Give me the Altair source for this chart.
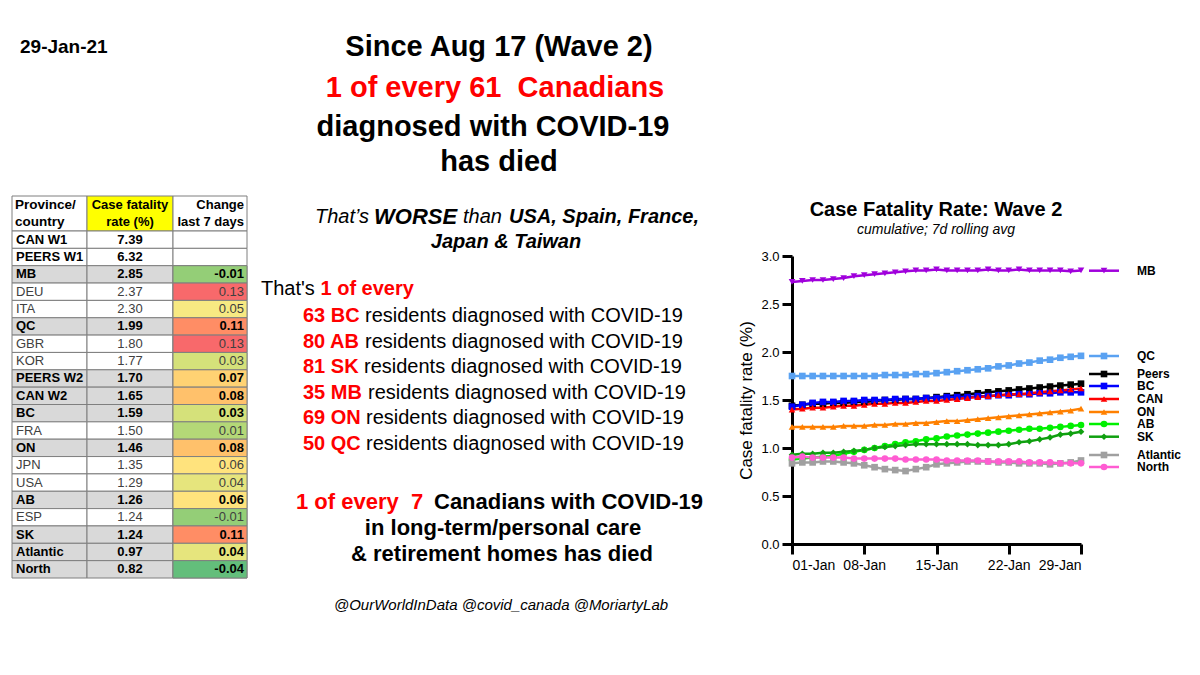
import altair as alt
import pandas as pd

FONT = "Liberation Sans"

# ---------------- line chart data ----------------
dates = [f"2021-01-{d:02d}" for d in range(1, 30)]
series_names = ["MB", "QC", "Peers", "BC", "CAN", "ON", "AB", "SK", "Atlantic", "North"]

mb = [2.73, 2.74, 2.75, 2.75, 2.76, 2.77, 2.79, 2.80, 2.81, 2.82, 2.83, 2.84, 2.85, 2.85, 2.86,
      2.85, 2.85, 2.85, 2.85, 2.86, 2.85, 2.85, 2.86, 2.85, 2.85, 2.85, 2.85, 2.84, 2.85]
qc = [1.75, 1.75, 1.75, 1.75, 1.75, 1.75, 1.75, 1.75, 1.75, 1.76, 1.76, 1.76, 1.77, 1.77, 1.78,
      1.79, 1.80, 1.81, 1.82, 1.83, 1.85, 1.86, 1.88, 1.89, 1.91, 1.92, 1.94, 1.95, 1.96]
peers = [1.44, 1.45, 1.46, 1.46, 1.47, 1.47, 1.48, 1.48, 1.49, 1.50, 1.50, 1.51, 1.51, 1.52, 1.53,
         1.54, 1.55, 1.56, 1.57, 1.58, 1.59, 1.60, 1.61, 1.62, 1.63, 1.64, 1.65, 1.66, 1.67]
bc = [1.43, 1.45, 1.47, 1.48, 1.48, 1.49, 1.49, 1.50, 1.50, 1.50, 1.51, 1.51, 1.51, 1.52, 1.52,
      1.53, 1.53, 1.53, 1.54, 1.54, 1.55, 1.55, 1.56, 1.56, 1.57, 1.57, 1.58, 1.58, 1.58]
can = [1.40, 1.41, 1.42, 1.42, 1.43, 1.44, 1.44, 1.45, 1.46, 1.46, 1.47, 1.47, 1.48, 1.49, 1.49,
       1.50, 1.51, 1.52, 1.53, 1.54, 1.55, 1.56, 1.56, 1.57, 1.58, 1.59, 1.60, 1.61, 1.62]
on = [1.22, 1.22, 1.22, 1.22, 1.22, 1.23, 1.23, 1.23, 1.24, 1.24, 1.25, 1.25, 1.26, 1.26, 1.27,
      1.28, 1.28, 1.29, 1.30, 1.31, 1.32, 1.33, 1.34, 1.35, 1.36, 1.37, 1.38, 1.39, 1.41]
ab = [0.88, 0.89, 0.90, 0.91, 0.92, 0.94, 0.96, 0.98, 1.00, 1.02, 1.04, 1.06, 1.07, 1.09, 1.10,
      1.12, 1.13, 1.14, 1.15, 1.16, 1.17, 1.18, 1.19, 1.20, 1.20, 1.21, 1.22, 1.23, 1.24]
sk = [0.93, 0.94, 0.94, 0.95, 0.95, 0.96, 0.97, 0.98, 1.00, 1.01, 1.02, 1.03, 1.04, 1.04, 1.04,
      1.04, 1.04, 1.04, 1.03, 1.03, 1.03, 1.04, 1.06, 1.07, 1.09, 1.11, 1.14, 1.15, 1.17]
atlantic = [0.84, 0.85, 0.85, 0.86, 0.86, 0.85, 0.84, 0.82, 0.80, 0.78, 0.77, 0.76, 0.78, 0.80, 0.83,
            0.84, 0.85, 0.86, 0.86, 0.86, 0.85, 0.85, 0.84, 0.84, 0.84, 0.83, 0.84, 0.85, 0.87]
north = [0.90, 0.91, 0.90, 0.90, 0.90, 0.90, 0.89, 0.89, 0.89, 0.89, 0.89, 0.88, 0.88, 0.88, 0.88,
         0.87, 0.87, 0.87, 0.87, 0.86, 0.86, 0.86, 0.86, 0.85, 0.85, 0.85, 0.84, 0.84, 0.84]
series_values = [mb, qc, peers, bc, can, on, ab, sk, atlantic, north]

series_colors = ["#A000DC", "#5AA2F2", "#000000", "#0000FF", "#FF0000",
                 "#FF8000", "#00F000", "#10A010", "#A0A0A0", "#FF5CD2"]
series_shapes = ["triangle-down", "square", "square", "square", "triangle-up",
                 "triangle-up", "circle", "diamond", "square", "circle"]

x_tick_days = [1, 8, 15, 22, 29]
y_ticks = [0, 0.5, 1.0, 1.5, 2.0, 2.5, 3.0]

# ---------------- table data ----------------
table_rows = ["CAN W1", "PEERS W1", "MB", "DEU", "ITA", "QC", "GBR", "KOR", "PEERS W2", "CAN W2",
              "BC", "FRA", "ON", "JPN", "USA", "AB", "ESP", "SK", "Atlantic", "North"]
table_cfr = [7.39, 6.32, 2.85, 2.37, 2.30, 1.99, 1.80, 1.77, 1.70, 1.65,
             1.59, 1.50, 1.46, 1.35, 1.29, 1.26, 1.24, 1.24, 0.97, 0.82]
table_change = [None, None, -0.01, 0.13, 0.05, 0.11, 0.13, 0.03, 0.07, 0.08,
                0.03, 0.01, 0.08, 0.06, 0.04, 0.06, -0.01, 0.11, 0.04, -0.04]
table_group = ["w1", "w1", "ca", "intl", "intl", "ca", "intl", "intl", "ca", "ca",
               "ca", "intl", "ca", "intl", "intl", "ca", "intl", "ca", "ca", "ca"]
table_header = [["Province/", "country"], ["Case fatality", "rate (%)"], ["Change", "last 7 days"]]

# ---------------- helpers ----------------
ONE = pd.DataFrame({"k": [0]})
M = 8  # page margin


def txt(s, x, y, size, weight="normal", style="normal", color="#000000", align="left", angle=0):
    return alt.Chart(ONE).mark_text(
        text=s, font=FONT, fontSize=size, fontWeight=weight, fontStyle=style,
        color=color, align=align, baseline="middle", angle=angle
    ).encode(x=alt.value(x - M), y=alt.value(y - M))


texts = [
    txt("29-Jan-21", 20, 47, 19, "bold"),
    txt("Since Aug 17 (Wave 2)", 499, 47, 29, "bold", align="center"),
    txt("1 of every 61\u00a0 Canadians", 495, 88, 29, "bold", color="#FF0000", align="center"),
    txt("diagnosed with COVID-19", 493, 127, 29, "bold", align="center"),
    txt("has died", 499, 162, 29, "bold", align="center"),
    # middle block
    txt("That\u2019s", 315, 217, 20, style="italic"),
    txt("WORSE", 374, 217, 22, "bold", "italic"),
    txt("than", 463, 217, 20, style="italic"),
    txt("USA, Spain, France,", 509, 217, 20, "bold", "italic"),
    txt("Japan & Taiwan", 506, 242, 20, "bold", "italic", align="center"),
    txt("That's", 261, 289, 20),
    txt("1 of every", 320.5, 289, 20, "bold", color="#FF0000"),
]

resident_labels = ["63 BC", "80 AB", "81 SK", "35 MB", "69 ON", "50 QC"]
resident_y = [316, 341.5, 367, 392.5, 418, 443.5]
resident_x2 = [365, 365, 364, 368, 366, 366]
for lab, yy, xx in zip(resident_labels, resident_y, resident_x2):
    texts.append(txt(lab, 303, yy, 20, "bold", color="#FF0000"))
    texts.append(txt("residents diagnosed with COVID-19", xx, yy, 20))

texts += [
    txt("1 of every\u00a0\u00a07", 296, 502, 22, "bold", color="#FF0000"),
    txt("Canadians with COVID-19", 434, 502, 22, "bold"),
    txt("in long-term/personal care", 503, 528, 22, "bold", align="center"),
    txt("& retirement homes has died", 502, 554, 22, "bold", align="center"),
    txt("@OurWorldInData @covid_canada @MoriartyLab", 501, 605, 15, style="italic", align="center"),
    # line chart titles
    txt("Case Fatality Rate: Wave 2", 936, 210, 20, "bold", align="center"),
    txt("cumulative; 7d rolling avg", 936, 230, 14, style="italic", align="center"),
    # table header
    txt(table_header[0][0], 15, 205, 13.5, "bold"),
    txt(table_header[0][1], 15, 222, 13.5, "bold"),
    txt(table_header[1][0], 130, 205, 13, "bold", align="center"),
    txt(table_header[1][1], 130, 222, 13, "bold", align="center"),
    txt(table_header[2][0], 244, 205, 13, "bold", align="right"),
    txt(table_header[2][1], 244, 222, 13, "bold", align="right"),
]

# ---------------- table ----------------
cells = []
hdr_bg = ["white", "yellow", "white"]
for c in range(3):
    cells.append({"c0": c, "c1": c + 1, "r0": 0, "r1": 1, "bg": hdr_bg[c]})
for i, g in enumerate(table_group):
    for c in range(3):
        bg = "grey" if (g == "ca" and c < 2) else "white"
        cells.append({"c0": c, "c1": c + 1, "r0": i + 1, "r1": i + 2, "bg": bg})
cells_df = pd.DataFrame(cells)

chg_df = pd.DataFrame([
    {"c0": 2, "c1": 3, "r0": i + 1, "r1": i + 2, "chg": v}
    for i, v in enumerate(table_change) if v is not None
])

tdf = pd.DataFrame({
    "name": table_rows,
    "cfr": [f"{v:.2f}" for v in table_cfr],
    "chg": ["" if v is None else f"{v:.2f}" for v in table_change],
    "r0": list(range(1, len(table_rows) + 1)),
    "bold": [g != "intl" for g in table_group],
})

tx = alt.Scale(domain=[0, 1, 2, 3], range=[4, 79, 165, 239], zero=False, nice=False)
ty = alt.Scale(domain=[0, 1, 21], range=[188, 223, 570], zero=False, nice=False)

rect_base = alt.Chart(cells_df).mark_rect(stroke="#7F7F7F", strokeWidth=1).encode(
    x=alt.X("c0:Q", scale=tx, axis=None), x2="c1:Q",
    y=alt.Y("r0:Q", scale=ty, axis=None), y2="r1:Q",
    fill=alt.Fill("bg:N", scale=alt.Scale(domain=["grey", "white", "yellow"],
                                          range=["#D9D9D9", "#FFFFFF", "#FFFF00"]), legend=None),
)
rect_chg = alt.Chart(chg_df).mark_rect(stroke="#7F7F7F", strokeWidth=1).encode(
    x=alt.X("c0:Q"), x2="c1:Q", y=alt.Y("r0:Q"), y2="r1:Q",
    fill=alt.Fill("chg:Q", scale=alt.Scale(domain=[-0.04, 0.055, 0.13],
                                           range=["#63BE7B", "#FFEB84", "#F8696B"]), legend=None),
)


def table_text(field, xd, align, dx, bold):
    sub = tdf[(tdf.bold == bold) & (tdf[field] != "")]
    return alt.Chart(sub).transform_calculate(rm="datum.r0 + 0.5").mark_text(
        font=FONT, fontSize=13, fontWeight="bold" if bold else "normal",
        color="#000000" if bold else "#404040", align=align, dx=dx, baseline="middle"
    ).encode(x=alt.datum(xd), y=alt.Y("rm:Q"), text=f"{field}:N")


table_layers = [rect_base, rect_chg]
for b in (True, False):
    table_layers += [table_text("name", 0, "left", 4, b),
                     table_text("cfr", 1.5, "center", 0, b),
                     table_text("chg", 3, "right", -3, b)]
table = alt.layer(*table_layers).resolve_scale(fill="independent")

# ---------------- line chart ----------------
long_rows = []
for name, vals in zip(series_names, series_values):
    for d, v in zip(dates, vals):
        long_rows.append({"series": name, "date": d, "value": v})
long_df = pd.DataFrame(long_rows)

dt = lambda d: alt.DateTime(year=2021, month=1, date=d, utc=True)
xs = alt.Scale(type="utc", domain=[dt(1), dt(29)], range=[784, 1073])
ys = alt.Scale(domain=[0, 3], range=[536, 248], zero=False, nice=False)

x_axis = alt.Axis(orient="bottom", offset=-123, values=[dt(d) for d in x_tick_days], format="%d-%b",
                  title=None, grid=False, labelFont=FONT, labelFontSize=14, labelColor="#000000",
                  labelPadding=4, tickSize=10, tickWidth=3, tickColor="#000000",
                  domainColor="#000000", domainWidth=3)
y_axis = alt.Axis(orient="left", offset=-784, values=y_ticks, format=".1f",
                  title="Case fatality rate (%)", titleFont=FONT, titleFontSize=17,
                  titleFontWeight="normal", titleColor="#000000", titlePadding=5,
                  grid=False, labelFont=FONT, labelFontSize=13, labelColor="#000000",
                  labelPadding=3, tickSize=10, tickWidth=3, tickColor="#000000",
                  domainColor="#000000", domainWidth=3)

color_scale = alt.Scale(domain=series_names, range=series_colors)
shape_scale = alt.Scale(domain=series_names, range=series_shapes)

lines = alt.Chart(long_df).mark_line(strokeWidth=2.5).encode(
    x=alt.X("date:T", scale=xs, axis=x_axis),
    y=alt.Y("value:Q", scale=ys, axis=y_axis),
    color=alt.Color("series:N", scale=color_scale, legend=None),
)
points = alt.Chart(long_df).mark_point(filled=True, size=44, opacity=1).encode(
    x=alt.X("date:T"),
    y=alt.Y("value:Q"),
    color=alt.Color("series:N", scale=color_scale, legend=None),
    shape=alt.Shape("series:N", scale=shape_scale, legend=None),
)
plot = alt.layer(lines, points)

# legend (Prism style, to the right of the plot)
legend_y_page = [270.7, 356, 374, 386, 399, 412, 424, 436.7, 455, 467]
legend_layers = []
for name, col, shp, ly in zip(series_names, series_colors, series_shapes, legend_y_page):
    legend_layers.append(alt.Chart(ONE).mark_rule(color=col, strokeWidth=2.5).encode(
        x=alt.value(1089 - M), x2=alt.value(1119 - M), y=alt.value(ly - M)))
    legend_layers.append(alt.Chart(ONE).mark_point(shape=shp, filled=True, size=44, color=col, opacity=1).encode(
        x=alt.value(1104 - M), y=alt.value(ly - M)))
    legend_layers.append(txt(name, 1137, ly, 12, "bold"))

chart = alt.layer(table, plot, *texts, *legend_layers).resolve_scale(
    x="independent", y="independent", color="independent", shape="independent", fill="independent"
).properties(
    width=1184, height=659, autosize=alt.AutoSizeParams(type="none"), padding=0, background="#FFFFFF"
).configure_view(strokeWidth=0)

chart.save("out.html", embed_options={"renderer": "svg", "actions": False})
